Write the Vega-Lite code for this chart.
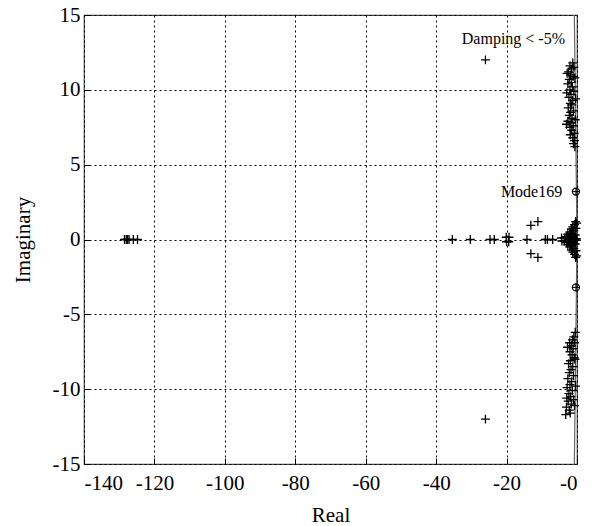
{
  "$schema": "https://vega.github.io/schema/vega-lite/v6.json",
  "width": 493,
  "height": 449,
  "autosize": {"type": "none"},
  "padding": {"left": 84, "top": 15, "right": 18, "bottom": 62},
  "background": "white",
  "config": {
    "font": "'Liberation Serif', 'DejaVu Serif', serif",
    "view": {"stroke": "#444", "strokeWidth": 1.2},
    "text": {"font": "'Liberation Serif', 'DejaVu Serif', serif"},
    "axis": {
      "labelFont": "'Liberation Serif', 'DejaVu Serif', serif",
      "titleFont": "'Liberation Serif', 'DejaVu Serif', serif",
      "labelFontSize": 21,
      "titleFontSize": 21,
      "titleFontWeight": "normal",
      "labelColor": "black",
      "titleColor": "black",
      "grid": true,
      "gridColor": "black",
      "gridDash": [2, 3],
      "gridWidth": 1,
      "gridOpacity": 1,
      "domain": false,
      "ticks": true,
      "tickSize": -6,
      "tickColor": "black",
      "tickWidth": 1
    }
  },
  "datasets": {
    "poles": [
      {"re": -128.5, "im": 0}, {"re": -128.0, "im": 0}, {"re": -127.6, "im": 0}, {"re": -127.2, "im": 0}, {"re": -126.0, "im": 0}, {"re": -124.8, "im": 0},
      {"re": -35.4, "im": 0}, {"re": -30.3, "im": 0}, {"re": -24.7, "im": 0}, {"re": -23.5, "im": 0},
      {"re": -20.1, "im": 0.15}, {"re": -19.4, "im": -0.15}, {"re": -20.0, "im": -0.15}, {"re": -19.3, "im": 0.15},
      {"re": -14.2, "im": 0}, {"re": -9.0, "im": 0}, {"re": -8.4, "im": 0}, {"re": -6.9, "im": 0},
      {"re": -4.4, "im": 0.1}, {"re": -3.6, "im": -0.1}, {"re": -4.3, "im": -0.1}, {"re": -3.5, "im": 0.1},
      {"re": -13.1, "im": 0.95}, {"re": -11.1, "im": 1.2}, {"re": -13.1, "im": -0.95}, {"re": -11.1, "im": -1.2},
      {"re": -26, "im": 12}, {"re": -26, "im": -12},
      {"re": -3.0, "im": 0.2}, {"re": -3.0, "im": -0.2}, {"re": -2.6, "im": 0.35}, {"re": -2.6, "im": -0.35},
      {"re": -2.3, "im": 0.1}, {"re": -2.3, "im": -0.1}, {"re": -2.0, "im": 0.5}, {"re": -2.0, "im": -0.5},
      {"re": -1.8, "im": 0.25}, {"re": -1.8, "im": -0.25}, {"re": -1.6, "im": 0.7}, {"re": -1.6, "im": -0.7},
      {"re": -1.4, "im": 0.4}, {"re": -1.4, "im": -0.4}, {"re": -1.2, "im": 0.85}, {"re": -1.2, "im": -0.85},
      {"re": -1.0, "im": 0.15}, {"re": -1.0, "im": -0.15}, {"re": -0.9, "im": 0.6}, {"re": -0.9, "im": -0.6},
      {"re": -0.7, "im": 1.0}, {"re": -0.7, "im": -1.0}, {"re": -0.5, "im": 0.3}, {"re": -0.5, "im": -0.3},
      {"re": -0.4, "im": 1.2}, {"re": -0.4, "im": -1.2}, {"re": -0.3, "im": 0.75}, {"re": -0.3, "im": -0.75},
      {"re": -0.2, "im": 0.05}, {"re": -0.2, "im": -0.05}, {"re": -0.1, "im": 1.1}, {"re": -0.1, "im": -1.1},
      {"re": -0.6, "im": 0.0}, {"re": -1.5, "im": 0.0}, {"re": -2.5, "im": 0.0},
      {"re": -1.2, "im": 11.8}, {"re": -2.0, "im": 11.6}, {"re": -1.5, "im": 11.4}, {"re": -2.4, "im": 11.2},
      {"re": -1.8, "im": 11.0}, {"re": -1.1, "im": 10.9}, {"re": -2.2, "im": 10.7}, {"re": -1.6, "im": 10.5},
      {"re": -2.6, "im": 10.4}, {"re": -1.3, "im": 10.2}, {"re": -2.0, "im": 10.0}, {"re": -0.9, "im": 9.9},
      {"re": -1.7, "im": 9.7}, {"re": -2.3, "im": 9.5}, {"re": -1.2, "im": 9.3}, {"re": -1.9, "im": 9.1},
      {"re": -1.5, "im": 9.0}, {"re": -2.5, "im": 8.8}, {"re": -1.0, "im": 8.6}, {"re": -1.8, "im": 8.5},
      {"re": -2.2, "im": 8.3}, {"re": -1.4, "im": 8.1}, {"re": -2.6, "im": 7.9}, {"re": -1.7, "im": 7.8},
      {"re": -1.1, "im": 7.6}, {"re": -2.0, "im": 7.5}, {"re": -1.5, "im": 7.3}, {"re": -0.8, "im": 7.1},
      {"re": -1.9, "im": 7.0}, {"re": -1.2, "im": 6.8}, {"re": -0.7, "im": 6.6}, {"re": -1.0, "im": 6.4},
      {"re": -0.6, "im": 6.2}, {"re": -2.8, "im": 11.1}, {"re": -2.9, "im": 9.8}, {"re": -0.5, "im": 8.0},
      {"re": -0.6, "im": 10.8}, {"re": -0.4, "im": 9.4}, {"re": -3.0, "im": 7.7}, {"re": -0.9, "im": 11.5},
      {"re": -0.5, "im": -6.2}, {"re": -0.9, "im": -6.5}, {"re": -1.3, "im": -6.7}, {"re": -0.7, "im": -6.9},
      {"re": -1.6, "im": -7.1}, {"re": -1.1, "im": -7.3}, {"re": -2.0, "im": -7.5}, {"re": -1.4, "im": -7.7},
      {"re": -0.8, "im": -7.9}, {"re": -1.9, "im": -8.1}, {"re": -2.4, "im": -8.3}, {"re": -1.2, "im": -8.5},
      {"re": -1.7, "im": -8.7}, {"re": -2.2, "im": -8.9}, {"re": -1.0, "im": -9.1}, {"re": -2.6, "im": -9.3},
      {"re": -1.5, "im": -9.5}, {"re": -2.0, "im": -9.7}, {"re": -2.8, "im": -9.9}, {"re": -1.3, "im": -10.1},
      {"re": -2.3, "im": -10.3}, {"re": -1.8, "im": -10.5}, {"re": -2.9, "im": -10.6}, {"re": -2.5, "im": -10.8},
      {"re": -1.6, "im": -11.0}, {"re": -3.0, "im": -11.2}, {"re": -2.2, "im": -11.4}, {"re": -3.2, "im": -11.7},
      {"re": -0.6, "im": -8.0}, {"re": -0.4, "im": -9.8}, {"re": -2.7, "im": -7.2}, {"re": -1.0, "im": -10.7},
      {"re": -2.1, "im": -6.9}, {"re": -0.7, "im": -11.1}, {"re": -1.9, "im": -11.6}
    ],
    "mode": [
      {"re": -0.3, "im": 3.2}, {"re": -0.3, "im": -3.2}
    ],
    "dampline": [
      {"re": -0.75, "im": 15, "o": 1}, {"re": 0, "im": 0, "o": 2}, {"re": -0.75, "im": -15, "o": 3}
    ],
    "labels": [
      {"re": -3.4, "im": 13.4, "txt": "Damping < -5%"},
      {"re": -4.2, "im": 3.2, "txt": "Mode169"}
    ]
  },
  "encoding": {
    "x": {
      "field": "re", "type": "quantitative",
      "scale": {"domain": [-140, 0], "nice": false, "zero": false},
      "axis": {
        "values": [-140, -120, -100, -80, -60, -40, -20, 0],
        "title": "Real",
        "labelExpr": "datum.value == 0 ? '-0' : '' + datum.value",
        "labelPadding": 14,
        "titleY": 51,
        "titleBaseline": "middle"
      }
    },
    "y": {
      "field": "im", "type": "quantitative",
      "scale": {"domain": [-15, 15], "nice": false, "zero": false},
      "axis": {
        "values": [-15, -10, -5, 0, 5, 10, 15],
        "title": "Imaginary",
        "labelExpr": "'' + datum.value",
        "labelPadding": 10,
        "titleX": -61,
        "titleBaseline": "middle"
      }
    }
  },
  "layer": [
    {
      "data": {"name": "dampline"},
      "mark": {"type": "line", "color": "#666", "strokeWidth": 1.2},
      "encoding": {"order": {"field": "o", "type": "quantitative"}}
    },
    {
      "data": {"name": "poles"},
      "mark": {"type": "point", "shape": "M-1,0H1M0,-1V1", "filled": false, "color": "black", "strokeWidth": 1.3, "size": 80, "opacity": 1}
    },
    {
      "data": {"name": "mode"},
      "mark": {"type": "point", "shape": "circle", "filled": false, "color": "black", "strokeWidth": 1.2, "size": 50, "opacity": 1}
    },
    {
      "data": {"name": "mode"},
      "mark": {"type": "point", "shape": "M-1,0H1M0,-1V1", "filled": false, "color": "black", "strokeWidth": 1, "size": 50, "opacity": 1}
    },
    {
      "data": {"name": "labels"},
      "mark": {"type": "text", "align": "right", "baseline": "middle", "fontSize": 16, "color": "black"},
      "encoding": {"text": {"field": "txt", "type": "nominal"}}
    }
  ]
}
